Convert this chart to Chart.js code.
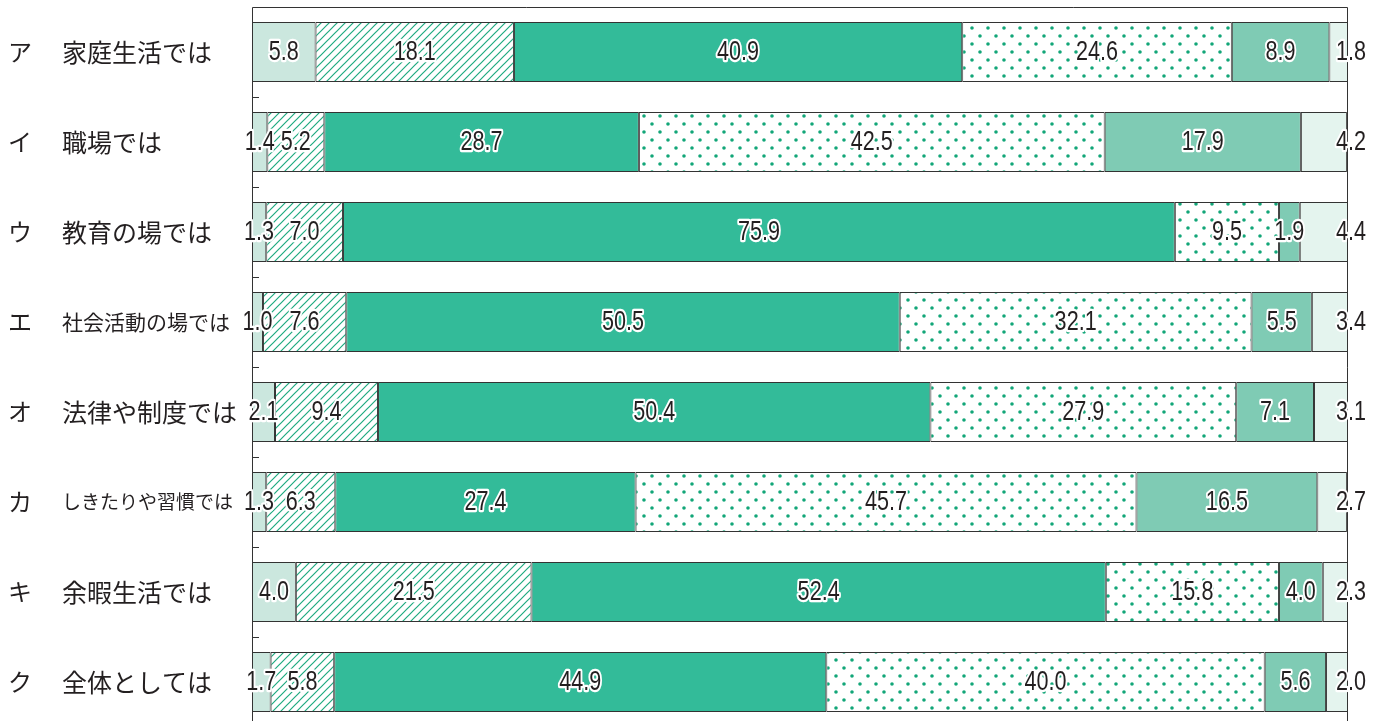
<!DOCTYPE html>
<html>
<head>
<meta charset="utf-8">
<script src="https://cdn.jsdelivr.net/npm/chart.js@4"></script>
<style>
  html, body { margin: 0; padding: 0; background: #fff; overflow: hidden; }
  #wrap { width: 1383px; height: 730px; }
</style>
</head>
<body>
<div id="wrap"><canvas id="chart" width="1383" height="730"></canvas></div>
<script>
// 項目
const kana = ['ア', 'イ', 'ウ', 'エ', 'オ', 'カ', 'キ', 'ク'];
const items = ['家庭生活では', '職場では', '教育の場では', '社会活動の場では', '法律や制度では', 'しきたりや習慣では', '余暇生活では', '全体としては'];

// 各回答の割合 (%)
const seg1 = [5.8, 1.4, 1.3, 1.0, 2.1, 1.3, 4.0, 1.7];
const seg2 = [18.1, 5.2, 7.0, 7.6, 9.4, 6.3, 21.5, 5.8];
const seg3 = [40.9, 28.7, 75.9, 50.5, 50.4, 27.4, 52.4, 44.9];
const seg4 = [24.6, 42.5, 9.5, 32.1, 27.9, 45.7, 15.8, 40.0];
const seg5 = [8.9, 17.9, 1.9, 5.5, 7.1, 16.5, 4.0, 5.6];
const seg6 = [1.8, 4.2, 4.4, 3.4, 3.1, 2.7, 2.3, 2.0];

const GREEN = '#1faa80';

function hatchPattern() {
    const c = document.createElement('canvas');
    c.width = 8; c.height = 8;
    const g = c.getContext('2d');
    g.fillStyle = '#fff';
    g.fillRect(0, 0, 8, 8);
    g.strokeStyle = GREEN;
    g.lineWidth = 1.2;
    g.beginPath();
    g.moveTo(-2, 10); g.lineTo(10, -2);
    g.moveTo(-2, 2); g.lineTo(2, -2);
    g.moveTo(6, 10); g.lineTo(10, 6);
    g.stroke();
    return g.createPattern(c, 'repeat');
}

function dotPattern() {
    const c = document.createElement('canvas');
    c.width = 16; c.height = 16;
    const g = c.getContext('2d');
    g.fillStyle = '#fff';
    g.fillRect(0, 0, 16, 16);
    g.fillStyle = '#12a678';
    g.beginPath();
    g.arc(4, 4, 1.8, 0, Math.PI * 2);
    g.arc(12, 12, 1.8, 0, Math.PI * 2);
    g.fill();
    return g.createPattern(c, 'repeat');
}

const fills = ['#cbe7de', hatchPattern(), '#33bb99', dotPattern(), '#7fcbb4', '#e4f4ee'];
const series = [seg1, seg2, seg3, seg4, seg5, seg6];

const valueFont = '27px "Liberation Sans", Arial, sans-serif';
const catFont = '"Noto Sans CJK JP", sans-serif';

// 枠・目盛り・ラベルを描く
const decorPlugin = {
    id: 'decor',
    afterDatasetsDraw(chart) {
        const ctx = chart.ctx;
        const area = chart.chartArea;
        const y = chart.scales.y;
        ctx.save();

        // 枠
        ctx.strokeStyle = '#333';
        ctx.lineWidth = 1;
        ctx.beginPath();
        ctx.moveTo(area.left + 0.5, area.bottom);
        ctx.lineTo(area.left + 0.5, area.top + 0.5);
        ctx.lineTo(area.right - 0.5, area.top + 0.5);
        ctx.lineTo(area.right - 0.5, area.bottom);
        ctx.stroke();

        // 区切りの目盛り
        const band = (y.getPixelForValue(1) - y.getPixelForValue(0));
        for (let i = 0; i < items.length; i++) {
            const ty = Math.round(y.getPixelForValue(i) + band / 2) + 0.5;
            ctx.beginPath();
            ctx.moveTo(area.left, ty);
            ctx.lineTo(area.left + 7, ty);
            ctx.stroke();
        }

        // 数値ラベル (横に詰めた書体)
        ctx.font = valueFont;
        ctx.textAlign = 'center';
        ctx.textBaseline = 'middle';
        ctx.lineJoin = 'round';
        const sx = 0.8;
        chart.data.datasets.forEach((ds, di) => {
            const meta = chart.getDatasetMeta(di);
            meta.data.forEach((bar, i) => {
                const txt = ds.data[i].toFixed(1);
                let cx = (bar.x + bar.base) / 2;
                if (di === series.length - 1) cx = area.right + 3;
                ctx.save();
                ctx.translate(cx, bar.y + 1);
                ctx.scale(sx, 1);
                ctx.lineWidth = 4.5;
                ctx.strokeStyle = '#fff';
                ctx.strokeText(txt, 0, 0);
                ctx.fillStyle = '#231f20';
                ctx.fillText(txt, 0, 0);
                ctx.restore();
            });
        });

        // 項目ラベル
        ctx.textAlign = 'left';
        ctx.fillStyle = '#231f20';
        items.forEach((label, i) => {
            const py = y.getPixelForValue(i);
            ctx.font = '24px ' + catFont;
            ctx.fillText(kana[i], 8, py);
            let size = 25;
            if (label.length === 8) size = 21;
            if (label.length >= 9) size = 19;
            ctx.font = size + 'px ' + catFont;
            ctx.fillText(label, 62, py);
        });
        ctx.restore();
    }
};

new Chart(document.getElementById('chart').getContext('2d'), {
    type: 'bar',
    data: {
        labels: items,
        datasets: series.map((d, i) => ({
            data: d,
            backgroundColor: fills[i],
            borderColor: '#333',
            borderWidth: 1,
            borderSkipped: false,
            categoryPercentage: 1,
            barPercentage: 0.667
        }))
    },
    options: {
        indexAxis: 'y',
        responsive: false,
        animation: false,
        layout: { padding: { left: 252, right: 35, top: 7, bottom: 3 } },
        plugins: {
            legend: { display: false },
            tooltip: { enabled: false }
        },
        scales: {
            x: { stacked: true, min: 0, max: 100, display: false },
            y: { stacked: true, display: false }
        }
    },
    plugins: [decorPlugin]
});
</script>
</body>
</html>
